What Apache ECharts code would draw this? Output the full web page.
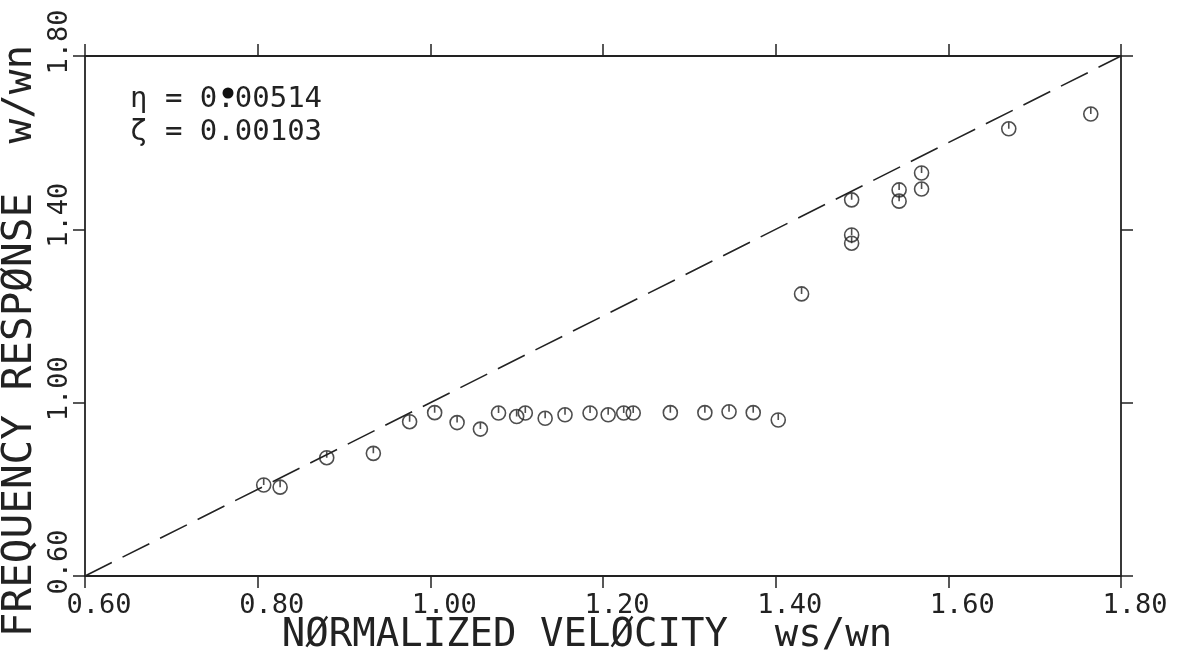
<!DOCTYPE html>
<html>
<head>
<meta charset="utf-8">
<title>Frequency response</title>
<script src="https://cdn.jsdelivr.net/npm/echarts@6/dist/echarts.min.js"></script>
<style>
  html, body { margin: 0; padding: 0; background: #fff; }
  #main { width: 1183px; height: 660px; }
</style>
</head>
<body>
<div id="main"></div>
<script>
const velocity = [0.807, 0.826, 0.880, 0.934, 0.976, 1.005, 1.031, 1.058, 1.079, 1.100,
                  1.110, 1.133, 1.156, 1.185, 1.206, 1.224, 1.235, 1.278, 1.318, 1.346,
                  1.374, 1.403, 1.430, 1.488, 1.488, 1.488, 1.543, 1.543, 1.569, 1.569,
                  1.670, 1.765];
const response = [0.810, 0.805, 0.873, 0.883, 0.956, 0.977, 0.954, 0.939, 0.976, 0.968,
                  0.976, 0.964, 0.972, 0.976, 0.972, 0.976, 0.976, 0.977, 0.977, 0.979,
                  0.977, 0.960, 1.251, 1.468, 1.387, 1.368, 1.491, 1.465, 1.530, 1.493,
                  1.632, 1.666];
// w/wn = ws/wn reference line
const diagX = [0.6, 1.8];
const diagY = [0.6, 1.8];
const xTicks = [0.6, 0.8, 1.0, 1.2, 1.4, 1.6, 1.8];
const yTicks = [0.6, 1.0, 1.4, 1.8];
const notes = ['\u03b7 = 0.00514', '\u03b6 = 0.00103'];

const ink = '#222';
const mono = '"DejaVu Sans Mono", monospace';
// plotter symbol: circle with a stroke from the top down to the centre
const marker = 'path://M10,0 A10,10 0 1,1 10,20 A10,10 0 1,1 10,0 M10,0 L10,10';

const axisCommon = {
    type: 'value',
    axisLine: { show: true, lineStyle: { color: ink, width: 1.8 } },
    axisTick: { show: true, inside: false, length: 12, lineStyle: { color: ink, width: 1.5 } },
    splitLine: { show: false },
    nameMoveOverlap: false
};

const myChart = echarts.init(document.getElementById('main'));
myChart.setOption({
    backgroundColor: '#fff',
    animation: false,
    grid: { left: 85, top: 56, width: 1036, height: 520, containLabel: false, outerBoundsMode: 'none' },
    xAxis: [
        Object.assign({}, axisCommon, {
            position: 'bottom',
            min: xTicks[0], max: xTicks[xTicks.length - 1], interval: 0.2,
            name: 'N\u00d8RMALIZED VEL\u00d8CITY  ws/wn',
            nameLocation: 'middle',
            nameGap: 40,
            nameTextStyle: { fontFamily: mono, fontSize: 39, color: ink, padding: [0, 32, 0, 0] },
            axisLabel: {
                margin: 16, fontFamily: mono, fontSize: 27, color: ink,
                padding: [0, 0, 0, 28],
                formatter: v => v.toFixed(2)
            }
        }),
        Object.assign({}, axisCommon, {
            position: 'top',
            min: xTicks[0], max: xTicks[xTicks.length - 1], interval: 0.2,
            axisLabel: { show: false }
        })
    ],
    yAxis: [
        Object.assign({}, axisCommon, {
            position: 'left',
            min: yTicks[0], max: yTicks[yTicks.length - 1], interval: 0.4,
            name: 'FREQUENCY RESP\u00d8NSE  w/wn',
            nameLocation: 'middle',
            nameGap: 44,
            nameTextStyle: { fontFamily: mono, fontSize: 41, color: ink, padding: [0, 50, 0, 0] },
            axisLabel: {
                rotate: 90, margin: 12, fontFamily: mono, fontSize: 27, color: ink,
                padding: [0, 0, 0, 28],
                formatter: v => v.toFixed(2)
            }
        }),
        Object.assign({}, axisCommon, {
            position: 'right',
            min: yTicks[0], max: yTicks[yTicks.length - 1], interval: 0.4,
            axisLabel: { show: false }
        })
    ],
    series: [
        {
            type: 'line',
            data: diagX.map((x, i) => [x, diagY[i]]),
            symbol: 'none',
            silent: true,
            lineStyle: { color: ink, width: 1.6, type: [30, 12] }
        },
        {
            type: 'scatter',
            data: velocity.map((x, i) => [x, response[i]]),
            symbol: marker,
            symbolSize: 14,
            itemStyle: { color: 'rgba(0,0,0,0)', borderColor: ink, borderWidth: 1.6 }
        }
    ],
    graphic: [
        {
            type: 'text', left: 130, top: 85,
            style: { text: notes[0], font: '29px ' + mono, fill: ink }
        },
        {
            type: 'text', left: 130, top: 118,
            style: { text: notes[1], font: '29px ' + mono, fill: ink }
        },
        // ink blot on the original sheet
        { type: 'circle', shape: { cx: 228, cy: 93, r: 5.5 }, style: { fill: '#111' } }
    ]
});
</script>
</body>
</html>
